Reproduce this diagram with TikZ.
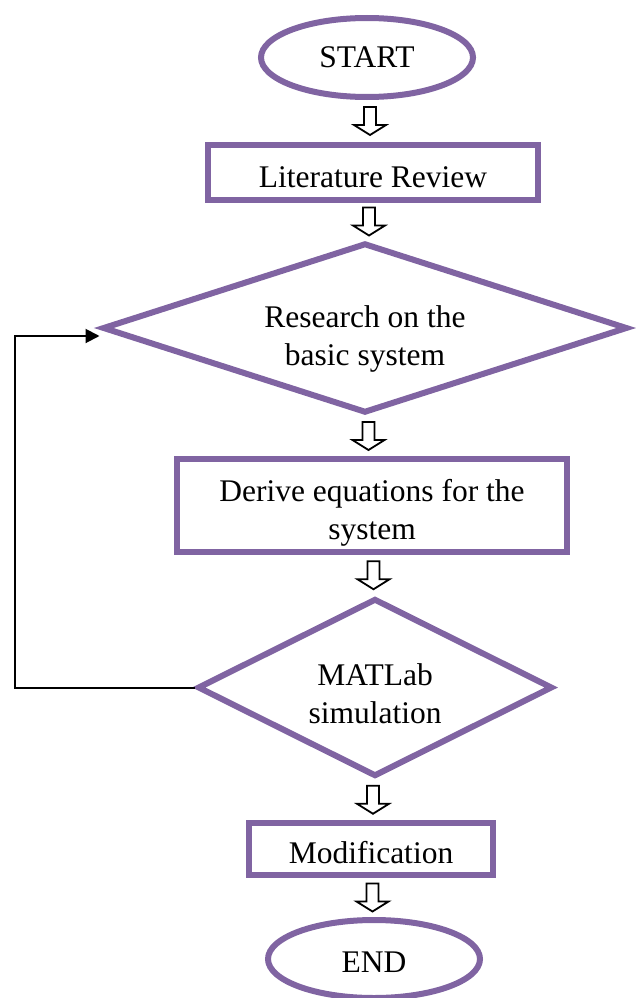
\documentclass[tikz,border=0pt]{standalone}
\usepackage{fontspec}
\setmainfont{Liberation Serif}
\usetikzlibrary{shapes.geometric}
\usetikzlibrary{arrows.meta}
\usetikzlibrary{calc}
\definecolor{flowpurple}{RGB}{128,100,162}
\tikzset{box/.style={draw=flowpurple,line width=6pt,rectangle,inner sep=2pt,align=center,font=\fontsize{31.5}{38}\selectfont}}
\tikzset{term/.style={box,ellipse}}
\tikzset{decide/.style={box,diamond}}
\tikzset{barrowline/.style={draw=black,fill=white,line width=1.8pt,line join=miter}}
\tikzset{loopline/.style={draw=black,line width=2pt,-{Triangle[length=14pt,width=14pt]}}}
\newcommand{\blockarrow}[2]{%
  \draw[barrowline] ($(#1.south)!0.5!(#2.north)$) ++(-6,-14) -- ++(12,0) -- ++(0,18)
    -- ++(10,0) -- ++(-16,10) -- ++(-16,-10) -- ++(10,0) -- cycle;}
\newcommand{\textdrop}[1]{\rule{0pt}{#1}}

\begin{document}
\begin{tikzpicture}[x=1pt,y=-1pt]
      \useasboundingbox (0,0) rectangle (635,998);
      \node[term,minimum width=212pt,minimum height=79pt] (start) at (367,57.5) {START};
      \node[box,minimum width=330pt,minimum height=55pt] (lit) at (373,172.5) {\textdrop{29.5pt}Literature Review};
      \node[decide,aspect=3.09,minimum width=525pt,minimum height=170pt] (res) at (365,328) {\textdrop{43pt}Research on the\\basic system};
      \node[box,minimum width=390pt,minimum height=93pt] (der) at (372,505.5) {\textdrop{36pt}Derive equations for the\\system};
      \node[decide,aspect=2,minimum width=355pt,minimum height=178pt] (sim) at (375,687.5) {\textdrop{34pt}MATLab\\simulation};
      \node[box,minimum width=244pt,minimum height=52pt] (mod) at (371,849) {\textdrop{29.5pt}Modification};
      \node[term,minimum width=212pt,minimum height=78pt] (stop) at (374,959) {\textdrop{27.5pt}END};
      \blockarrow{start}{lit}
      \blockarrow{lit}{res}
      \blockarrow{res}{der}
      \blockarrow{der}{sim}
      \blockarrow{sim}{mod}
      \blockarrow{mod}{stop}
      \draw[loopline] (sim.west) -- ++(-180,0) |- ([yshift=-8pt]res.west);
\end{tikzpicture}
\end{document}
